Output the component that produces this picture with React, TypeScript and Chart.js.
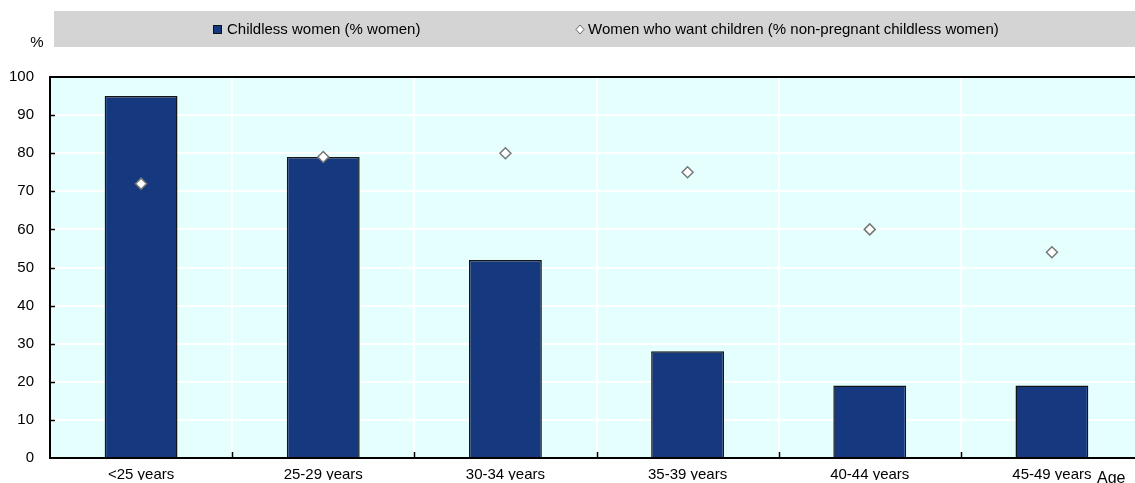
import React, { useEffect, useRef } from "react";
import { Chart, registerables } from "chart.js";

Chart.register(...registerables);

const categories = ["<25 years", "25-29 years", "30-34 years", "35-39 years", "40-44 years", "45-49 years"];
const childlessWomen = [95, 79, 52, 28, 19, 19];
const wantChildren = [72, 79, 80, 75, 60, 54];
const legendLabels = ["Childless women (% women)", "Women who want children (% non-pregnant childless women)"];
const yUnit = "%";
const xUnit = "Age";

const FONT = "'Liberation Sans', Arial, sans-serif";
const NAVY = "#15387f";
const PLOT_BG = "#e5ffff";

const decorPlugin = {
  id: "decor",
  beforeDraw(chart: any) {
    const { ctx, chartArea: a } = chart;
    ctx.save();
    ctx.fillStyle = PLOT_BG;
    ctx.fillRect(a.left, a.top, a.right - a.left, a.bottom - a.top);
    ctx.restore();
  },
  afterDraw(chart: any) {
    const { ctx, chartArea: a, scales } = chart;
    ctx.save();
    // top border
    ctx.strokeStyle = "#000";
    ctx.lineWidth = 2;
    ctx.beginPath();
    ctx.moveTo(a.left, a.top);
    ctx.lineTo(a.right, a.top);
    ctx.stroke();
    // inward tick marks
    ctx.lineWidth = 1.5;
    ctx.strokeStyle = "#000";
    const y = scales.y;
    for (let v = 10; v < 100; v += 10) {
      const py = Math.round(y.getPixelForValue(v)) + 0.5;
      ctx.beginPath();
      ctx.moveTo(a.left, py);
      ctx.lineTo(a.left + 5, py);
      ctx.stroke();
    }
    const x = scales.x;
    for (let i = 1; i < categories.length; i++) {
      const px = Math.round(x.getPixelForValue(i - 0.5)) + 0.5;
      ctx.beginPath();
      ctx.moveTo(px, a.bottom);
      ctx.lineTo(px, a.bottom - 6);
      ctx.stroke();
    }
    // legend box
    ctx.fillStyle = "#d4d4d4";
    ctx.fillRect(54, 11, 1200, 36);
    ctx.font = `15px ${FONT}`;
    ctx.textBaseline = "middle";
    ctx.textAlign = "left";
    // square marker
    ctx.fillStyle = NAVY;
    ctx.fillRect(213, 25, 9, 9);
    ctx.strokeStyle = "#111";
    ctx.lineWidth = 1;
    ctx.strokeRect(213.5, 25.5, 8, 8);
    ctx.fillStyle = "#000";
    ctx.fillText(legendLabels[0], 227, 30);
    // diamond marker
    ctx.beginPath();
    ctx.moveTo(580, 25);
    ctx.lineTo(584, 29.5);
    ctx.lineTo(580, 34);
    ctx.lineTo(576, 29.5);
    ctx.closePath();
    ctx.fillStyle = "#fff";
    ctx.fill();
    ctx.strokeStyle = "#666";
    ctx.stroke();
    ctx.fillStyle = "#000";
    ctx.fillText(legendLabels[1], 588, 30);
    // unit labels
    ctx.textAlign = "center";
    ctx.fillText(yUnit, 37, 43);
    ctx.textAlign = "left";
    ctx.font = `16px ${FONT}`;
    ctx.fillText(xUnit, 1097, 479);
    ctx.restore();
  },
};

export default function App() {
  const ref = useRef<HTMLCanvasElement>(null);
  useEffect(() => {
    if (!ref.current) return;
    const chart = new Chart(ref.current, {
      type: "bar",
      data: {
        labels: categories,
        datasets: [
          {
            type: "line",
            label: legendLabels[1],
            data: wantChildren,
            showLine: false,
            pointStyle: "rectRot",
            pointRadius: 5.5,
            pointBackgroundColor: "#fff",
            pointBorderColor: "#777",
            pointBorderWidth: 1.5,
            order: 0,
          } as any,
          {
            type: "bar",
            label: legendLabels[0],
            data: childlessWomen,
            backgroundColor: NAVY,
            borderColor: "#151515",
            borderWidth: 1.5,
            barPercentage: 0.4,
            categoryPercentage: 1,
            order: 1,
          },
        ],
      },
      options: {
        responsive: false,
        animation: false,
        layout: { padding: { top: 77, right: 5, left: 0, bottom: 0 } },
        plugins: { legend: { display: false }, tooltip: { enabled: false }, title: { display: false } },
        scales: {
          x: {
            offset: true,
            grid: { color: "#ffffff", lineWidth: 2, drawTicks: false, offset: true },
            border: { color: "#000", width: 2 },
            ticks: { color: "#000", font: { family: FONT, size: 15 }, padding: 8, maxRotation: 0, autoSkip: false },
            afterFit: (s: any) => {
              s.height = 22;
            },
          },
          y: {
            min: 0,
            max: 100,
            ticks: { stepSize: 10, color: "#000", font: { family: FONT, size: 15 }, padding: 16 },
            grid: { color: "#ffffff", lineWidth: 2, drawTicks: false },
            border: { color: "#000", width: 2 },
            afterFit: (s: any) => {
              s.width = 50;
            },
          },
        },
      },
      plugins: [decorPlugin],
    });
    return () => chart.destroy();
  }, []);
  return (
    <div style={{ position: "fixed", left: 0, top: 0, width: 1135, height: 483, overflow: "hidden", background: "#fff" }}>
      <canvas ref={ref} width={1150} height={483} style={{ width: 1150, height: 483, display: "block" }} />
    </div>
  );
}
